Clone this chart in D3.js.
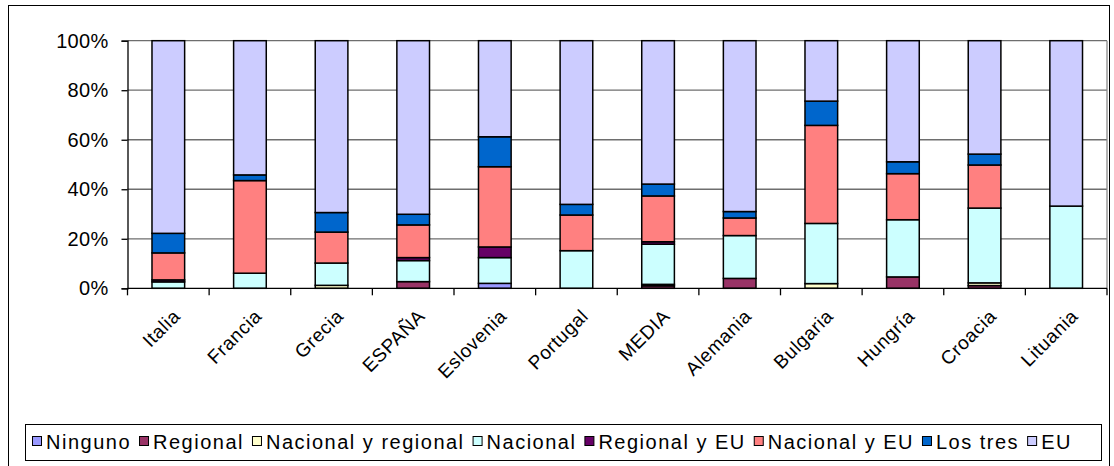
<!DOCTYPE html>
<html>
<head>
<meta charset="utf-8">
<script src="https://cdn.jsdelivr.net/npm/d3@7"></script>
<style>
  html, body { margin: 0; padding: 0; background: #fff; }
  svg { display: block; }
  text { font-family: "Liberation Sans", Arial, sans-serif; fill: #000; }
</style>
</head>
<body>
<svg id="chart" width="1114" height="466"></svg>
<script>
// ---- data ----
const categories = ["Italia", "Francia", "Grecia", "ESPAÑA", "Eslovenia", "Portugal",
                    "MEDIA", "Alemania", "Bulgaria", "Hungría", "Croacia", "Lituania"];
const seriesNames = ["Ninguno", "Regional", "Nacional y regional", "Nacional",
                     "Regional y EU", "Nacional y EU", "Los tres", "EU"];
const seriesColors = ["#9999FF", "#993366", "#FFFFCC", "#CCFFFF",
                      "#660066", "#FF8080", "#0066CC", "#CCCCFF"];
const ninguno          = [0,   0,    0,   0,   2.0, 0,    0,   0,   0,   0,   0,   0];
const regional         = [0,   0,    0,   2.7, 0,   0,    1.0, 4.0, 0,   4.6, 1.1, 0];
const nacionalRegional = [0,   0,    1.2, 0,   0,   0,    0.6, 0,   1.9, 0,   1.1, 0];
const nacional         = [2.6, 6.1,  9.0, 8.5, 10.4,15.2, 16.2,17.3,24.3,23.1,30.2,33.2];
const regionalEU       = [0.8, 0,    0,   1.2, 4.3, 0,    1.0, 0,   0,   0,   0,   0];
const nacionalEU       = [10.9,37.4, 12.5,13.2,32.4,14.4, 18.5,7.1, 39.6,18.6,17.4,0];
const losTres          = [7.9, 2.3,  7.9, 4.3, 12.1,4.3,  4.8, 2.6, 9.8, 4.8, 4.4, 0];
const eu               = [77.8,54.2, 69.4,70.1,38.8,66.1, 57.9,69.0,24.4,48.9,45.8,66.8];
const yTicks = [0, 0.2, 0.4, 0.6, 0.8, 1.0];

const seriesValues = [ninguno, regional, nacionalRegional, nacional,
                      regionalEU, nacionalEU, losTres, eu];
const table = categories.map((c, i) => {
  const row = { cat: c };
  seriesNames.forEach((s, j) => row[s] = seriesValues[j][i]);
  return row;
});

// ---- layout ----
const svg = d3.select("#chart");
const plot = { left: 127.5, right: 1107, top: 40.7, bottom: 288.3 };

// outer border
svg.append("rect").attr("x", 8.5).attr("y", 5.5).attr("width", 1101).attr("height", 470)
  .attr("fill", "none").attr("stroke", "#000").attr("stroke-width", 1);

const x = d3.scaleBand().domain(categories).range([plot.left, plot.right])
  .paddingInner(0.6).paddingOuter(0.3);
const y = d3.scaleLinear().domain([0, 1]).range([plot.bottom, plot.top]);

// gridlines
svg.append("g").selectAll("line").data(yTicks.filter(t => t > 0)).join("line")
  .attr("x1", plot.left).attr("x2", plot.right)
  .attr("y1", d => y(d)).attr("y2", d => y(d))
  .attr("stroke", "#6e6e6e").attr("stroke-width", 1.3);
// plot right border
svg.append("line").attr("x1", plot.right).attr("x2", plot.right)
  .attr("y1", plot.top).attr("y2", plot.bottom)
  .attr("stroke", "#8a8a8a").attr("stroke-width", 1.3);

// bars
const stack = d3.stack().keys(seriesNames).offset(d3.stackOffsetExpand);
const layers = stack(table);
const gBars = svg.append("g");
layers.forEach((layer, j) => {
  gBars.append("g").attr("fill", seriesColors[j])
    .selectAll("rect").data(layer.filter(d => d[1] - d[0] > 1e-6)).join("rect")
    .attr("x", d => x(d.data.cat))
    .attr("width", x.bandwidth())
    .attr("y", d => y(d[1]))
    .attr("height", d => y(d[0]) - y(d[1]))
    .attr("stroke", "#000").attr("stroke-width", 1.5);
});

// y axis
const yAxis = d3.axisLeft(y).tickValues(yTicks).tickFormat(d3.format(".0%"))
  .tickSize(6).tickPadding(13);
const gy = svg.append("g").attr("transform", `translate(${plot.left},0)`).call(yAxis);
gy.select(".domain").attr("stroke", "#000").attr("stroke-width", 1.3);
gy.selectAll(".tick line").attr("stroke", "#000").attr("stroke-width", 1.3);
gy.selectAll(".tick text").attr("font-size", 20).attr("font-family", "Liberation Sans, Arial, sans-serif")
  .style("letter-spacing", "0.3px");

// x axis line and category ticks
svg.append("line").attr("x1", plot.left).attr("x2", plot.right)
  .attr("y1", plot.bottom).attr("y2", plot.bottom)
  .attr("stroke", "#000").attr("stroke-width", 1.3);
const step = x.step();
const boundaries = d3.range(categories.length + 1).map(i => plot.left + i * step);
svg.append("g").selectAll("line").data(boundaries).join("line")
  .attr("x1", d => d).attr("x2", d => d)
  .attr("y1", plot.bottom).attr("y2", plot.bottom + 7)
  .attr("stroke", "#000").attr("stroke-width", 1.3);

// category labels
svg.append("g").selectAll("text").data(categories).join("text")
  .attr("transform", d => `translate(${x(d) + x.bandwidth() / 2 + 13},${plot.bottom + 29}) rotate(-45)`)
  .attr("text-anchor", "end")
  .attr("font-size", 19)
  .style("letter-spacing", "0.6px")
  .text(d => d);

// legend
const legend = { x: 25, y: 424, w: 1076, h: 36 };
svg.append("rect").attr("x", legend.x + 0.5).attr("y", legend.y + 0.5)
  .attr("width", legend.w).attr("height", legend.h)
  .attr("fill", "#fff").attr("stroke", "#000").attr("stroke-width", 1);
const gl = svg.append("g");
let lx = 32;
seriesNames.forEach((s, j) => {
  gl.append("rect").attr("x", lx + 0.5).attr("y", 436.5).attr("width", 9).attr("height", 9)
    .attr("fill", seriesColors[j]).attr("stroke", "#000").attr("stroke-width", 1);
  const t = gl.append("text").attr("x", lx + 14).attr("y", 449)
    .attr("font-size", 20).style("letter-spacing", "1.5px").text(s);
  lx = lx + 14 + t.node().getComputedTextLength() + 8;
});
</script>
</body>
</html>
